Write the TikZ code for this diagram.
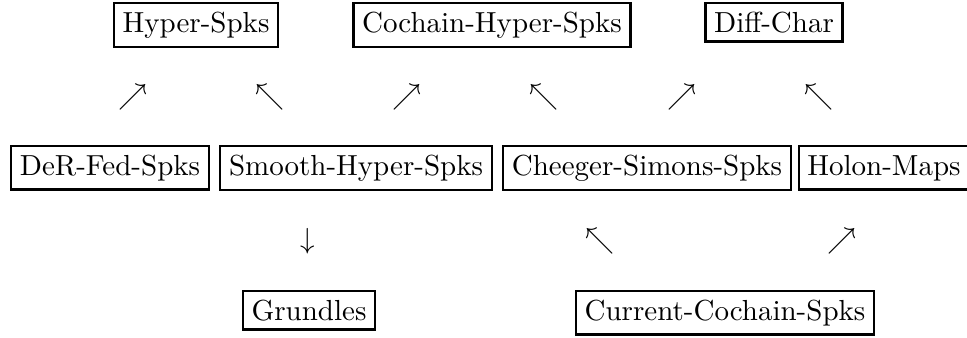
\documentclass[tikz,border=0pt]{standalone}
\usepackage{amsmath}
\usepackage{amssymb}
\tikzset{
  spks/.style={
    draw, line width=0.8pt, inner sep=3pt, anchor=base
  },
  glyph/.style={
    inner sep=0pt, anchor=center
  }
}

\begin{document}
\begin{tikzpicture}
\newcommand{\ytop}{3.697}
\newcommand{\yup}{2.909}
\newcommand{\ymid}{1.963}
\newcommand{\ydown}{1.165}
\newcommand{\ylow}{0.206}

\useasboundingbox (0,0) rectangle (11.72,4.085);

\node [spks] (hyper) at (2.376,\ytop) {Hyper-Spks};
\node [spks] (cochainhyper) at (5.963,\ytop) {Cochain-Hyper-Spks};
\node [spks] (diffchar) at (9.381,\ytop) {Diff-Char};

\node [glyph] (a1) at (1.612,\yup) {$\nearrow$};
\node [glyph] (a2) at (3.272,\yup) {$\nwarrow$};
\node [glyph] (a3) at (4.933,\yup) {$\nearrow$};
\node [glyph] (a4) at (6.593,\yup) {$\nwarrow$};
\node [glyph] (a5) at (8.266,\yup) {$\nearrow$};
\node [glyph] (a6) at (9.926,\yup) {$\nwarrow$};

\node [spks] (derfed) at (1.333,\ymid) {DeR-Fed-Spks};
\node [spks] (smooth) at (4.315,\ymid) {Smooth-Hyper-Spks};
\node [spks] (cheeger) at (7.842,\ymid) {Cheeger-Simons-Spks};
\node [spks] (holon) at (10.714,\ymid) {Holon-Maps};

\node [glyph] (b1) at (3.733,\ydown) {$\downarrow$};
\node [glyph] (b2) at (7.272,\ydown) {$\nwarrow$};
\node [glyph] (b3) at (10.205,\ydown) {$\nearrow$};

\node [spks] (grundles) at (3.745,\ylow) {Grundles};
\node [spks] (current) at (8.787,\ylow) {Current-Cochain-Spks};
\end{tikzpicture}
\end{document}
